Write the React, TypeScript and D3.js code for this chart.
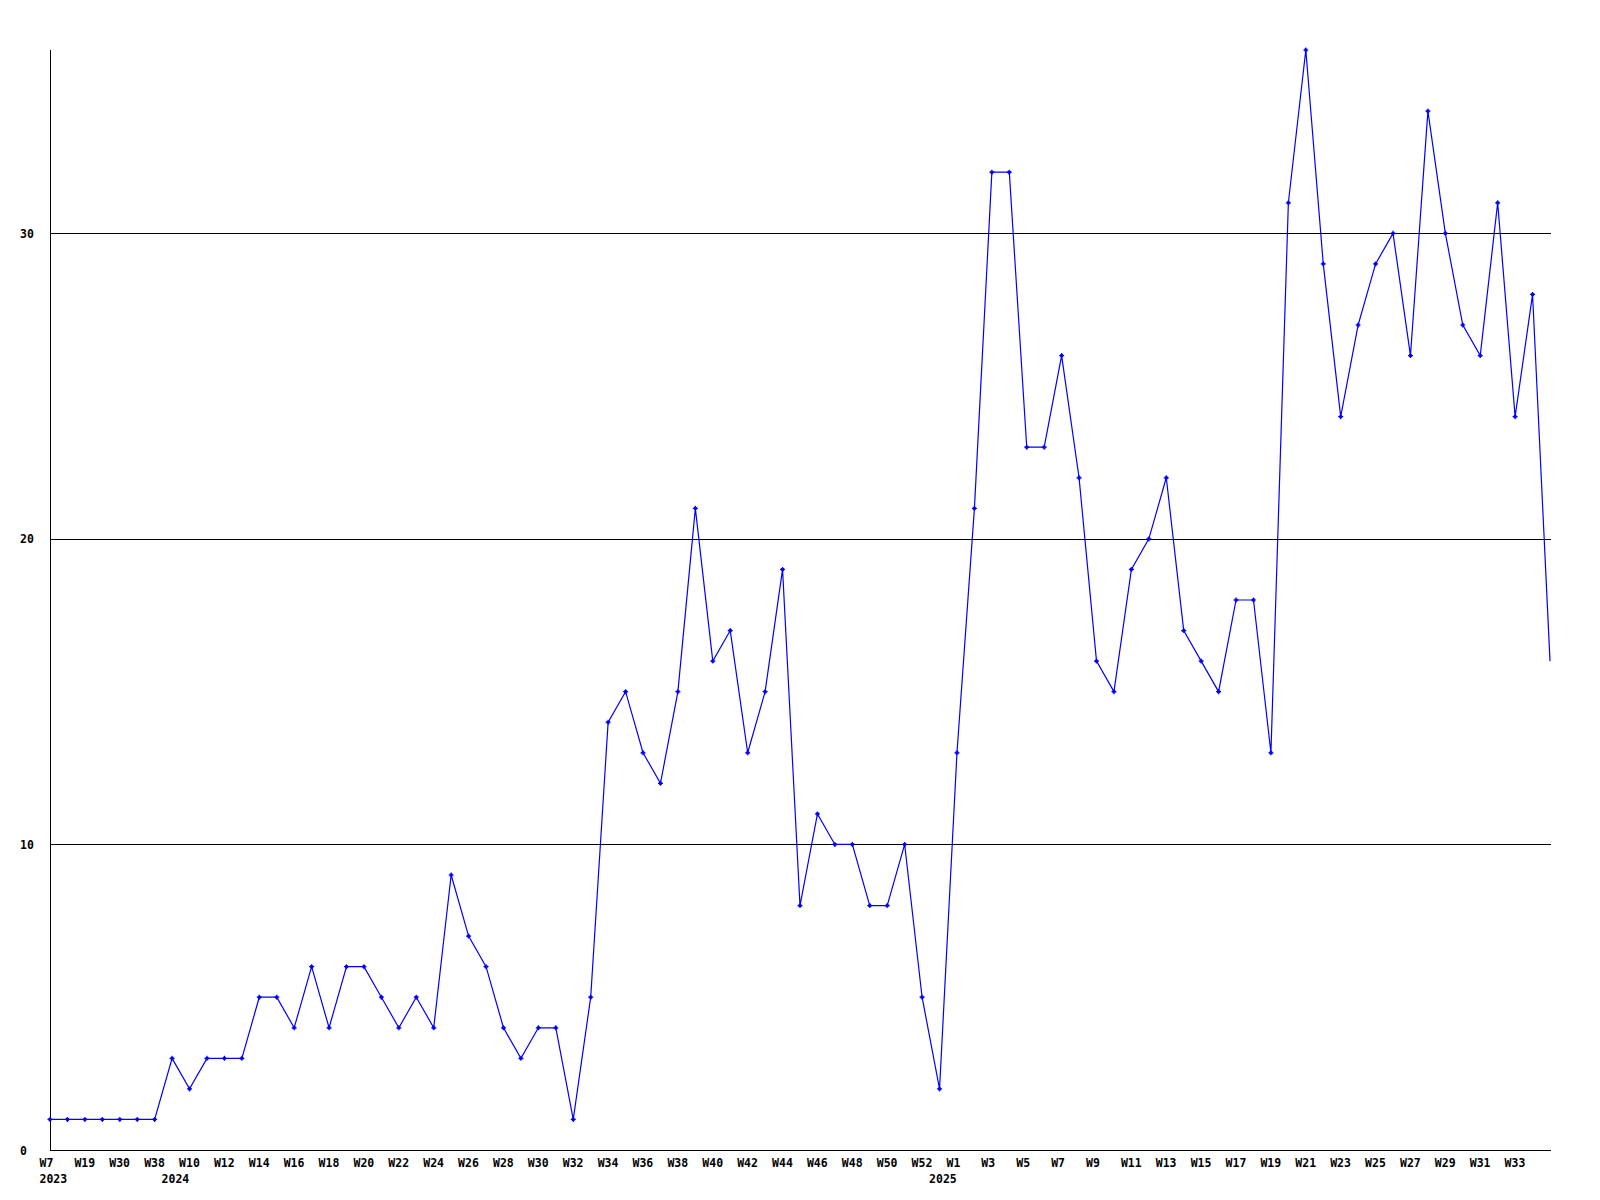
import React from "react";
import * as d3 from "d3";

const weeks: string[] = [
  "W7", "W13", "W19", "W25", "W30", "W35", "W38",
  "W9", "W10", "W11", "W12", "W13", "W14", "W15", "W16", "W17", "W18", "W19", "W20",
  "W21", "W22", "W23", "W24", "W25", "W26", "W27", "W28", "W29", "W30", "W31", "W32",
  "W33", "W34", "W35", "W36", "W37", "W38", "W39", "W40", "W41", "W42", "W43", "W44",
  "W45", "W46", "W47", "W48", "W49", "W50", "W51", "W52",
  "W0", "W1", "W2", "W3", "W4", "W5", "W6", "W7", "W8", "W9", "W10", "W11", "W12",
  "W13", "W14", "W15", "W16", "W17", "W18", "W19", "W20", "W21", "W22", "W23", "W24",
  "W25", "W26", "W27", "W28", "W29", "W30", "W31", "W32", "W33", "W34", "W35",
];

const values: number[] = [
  1, 1, 1, 1, 1, 1, 1,
  3, 2, 3, 3, 3, 5, 5, 4, 6, 4, 6, 6,
  5, 4, 5, 4, 9, 7, 6, 4, 3, 4, 4, 1,
  5, 14, 15, 13, 12, 15, 21, 16, 17, 13, 15, 19,
  8, 11, 10, 10, 8, 8, 10, 5,
  2, 13, 21, 32, 32, 23, 23, 26, 22, 16, 15, 19, 20,
  22, 17, 16, 15, 18, 18, 13, 31, 36, 29, 24, 27,
  29, 30, 26, 34, 30, 27, 26, 31, 24, 28, 16,
];

const yearLabels: { index: number; label: string }[] = [
  { index: 0, label: "2023" },
  { index: 7, label: "2024" },
  { index: 51, label: "2025" },
];

const yTicks: number[] = [0, 10, 20, 30];

const W = 1600;
const H = 1200;
const left = 50;
const right = 1550;
const top = 50;
const bottom = 1150;
const font = "'DejaVu Sans Mono', 'Liberation Mono', monospace";

export default function App() {
  const x = d3.scaleLinear().domain([0, values.length - 1]).range([left, right]);
  const y = d3.scaleLinear().domain([0, 36]).range([bottom, top]);
  const line = d3
    .line<number>()
    .x((_, i) => x(i))
    .y((d) => y(d));
  const last = values.length - 1;

  return (
    <div style={{ position: "absolute", left: 0, top: 0 }}>
      <svg width={W} height={H} viewBox={`0 0 ${W} ${H}`} style={{ display: "block", background: "#fff" }}>
        <rect x={0} y={0} width={W} height={H} fill="#fff" />
        {yTicks
          .filter((t) => t > 0)
          .map((t) => (
            <line key={t} x1={left} x2={right + 1} y1={Math.round(y(t)) + 0.5} y2={Math.round(y(t)) + 0.5} stroke="#000" strokeWidth={1} />
          ))}
        <line x1={left + 0.5} x2={left + 0.5} y1={top} y2={bottom + 0.5} stroke="#000" strokeWidth={1} />
        <line x1={left} x2={right + 1} y1={bottom + 0.5} y2={bottom + 0.5} stroke="#000" strokeWidth={1} />
        {yTicks.map((t) => (
          <text key={t} x={20} y={y(t) + 4.5} fontFamily={font} fontWeight="bold" fontSize={11.5} fill="#000">
            {t}
          </text>
        ))}
        {weeks.map((w, i) =>
          i % 2 === 0 && i < last ? (
            <text key={i} x={x(i) - 10.5} y={1167} fontFamily={font} fontWeight="bold" fontSize={11.5} fill="#000">
              {w}
            </text>
          ) : null
        )}
        {yearLabels.map((yl) => (
          <text key={yl.label} x={x(yl.index) - 10.5} y={1183} fontFamily={font} fontWeight="bold" fontSize={11.5} fill="#000">
            {yl.label}
          </text>
        ))}
        <path d={line(values) || ""} fill="none" stroke="#0000ff" strokeWidth={1.2} />
        {values.map((v, i) =>
          i < last ? (
            <g key={i} transform={`translate(${x(i)},${y(v)})`}>
              <path d="M-2.5,0H2.5M0,-2.5V2.5" stroke="#0000ff" strokeWidth={1.2} />
              <rect x={-1.5} y={-1.5} width={3} height={3} fill="#0000ff" />
            </g>
          ) : null
        )}
      </svg>
    </div>
  );
}
